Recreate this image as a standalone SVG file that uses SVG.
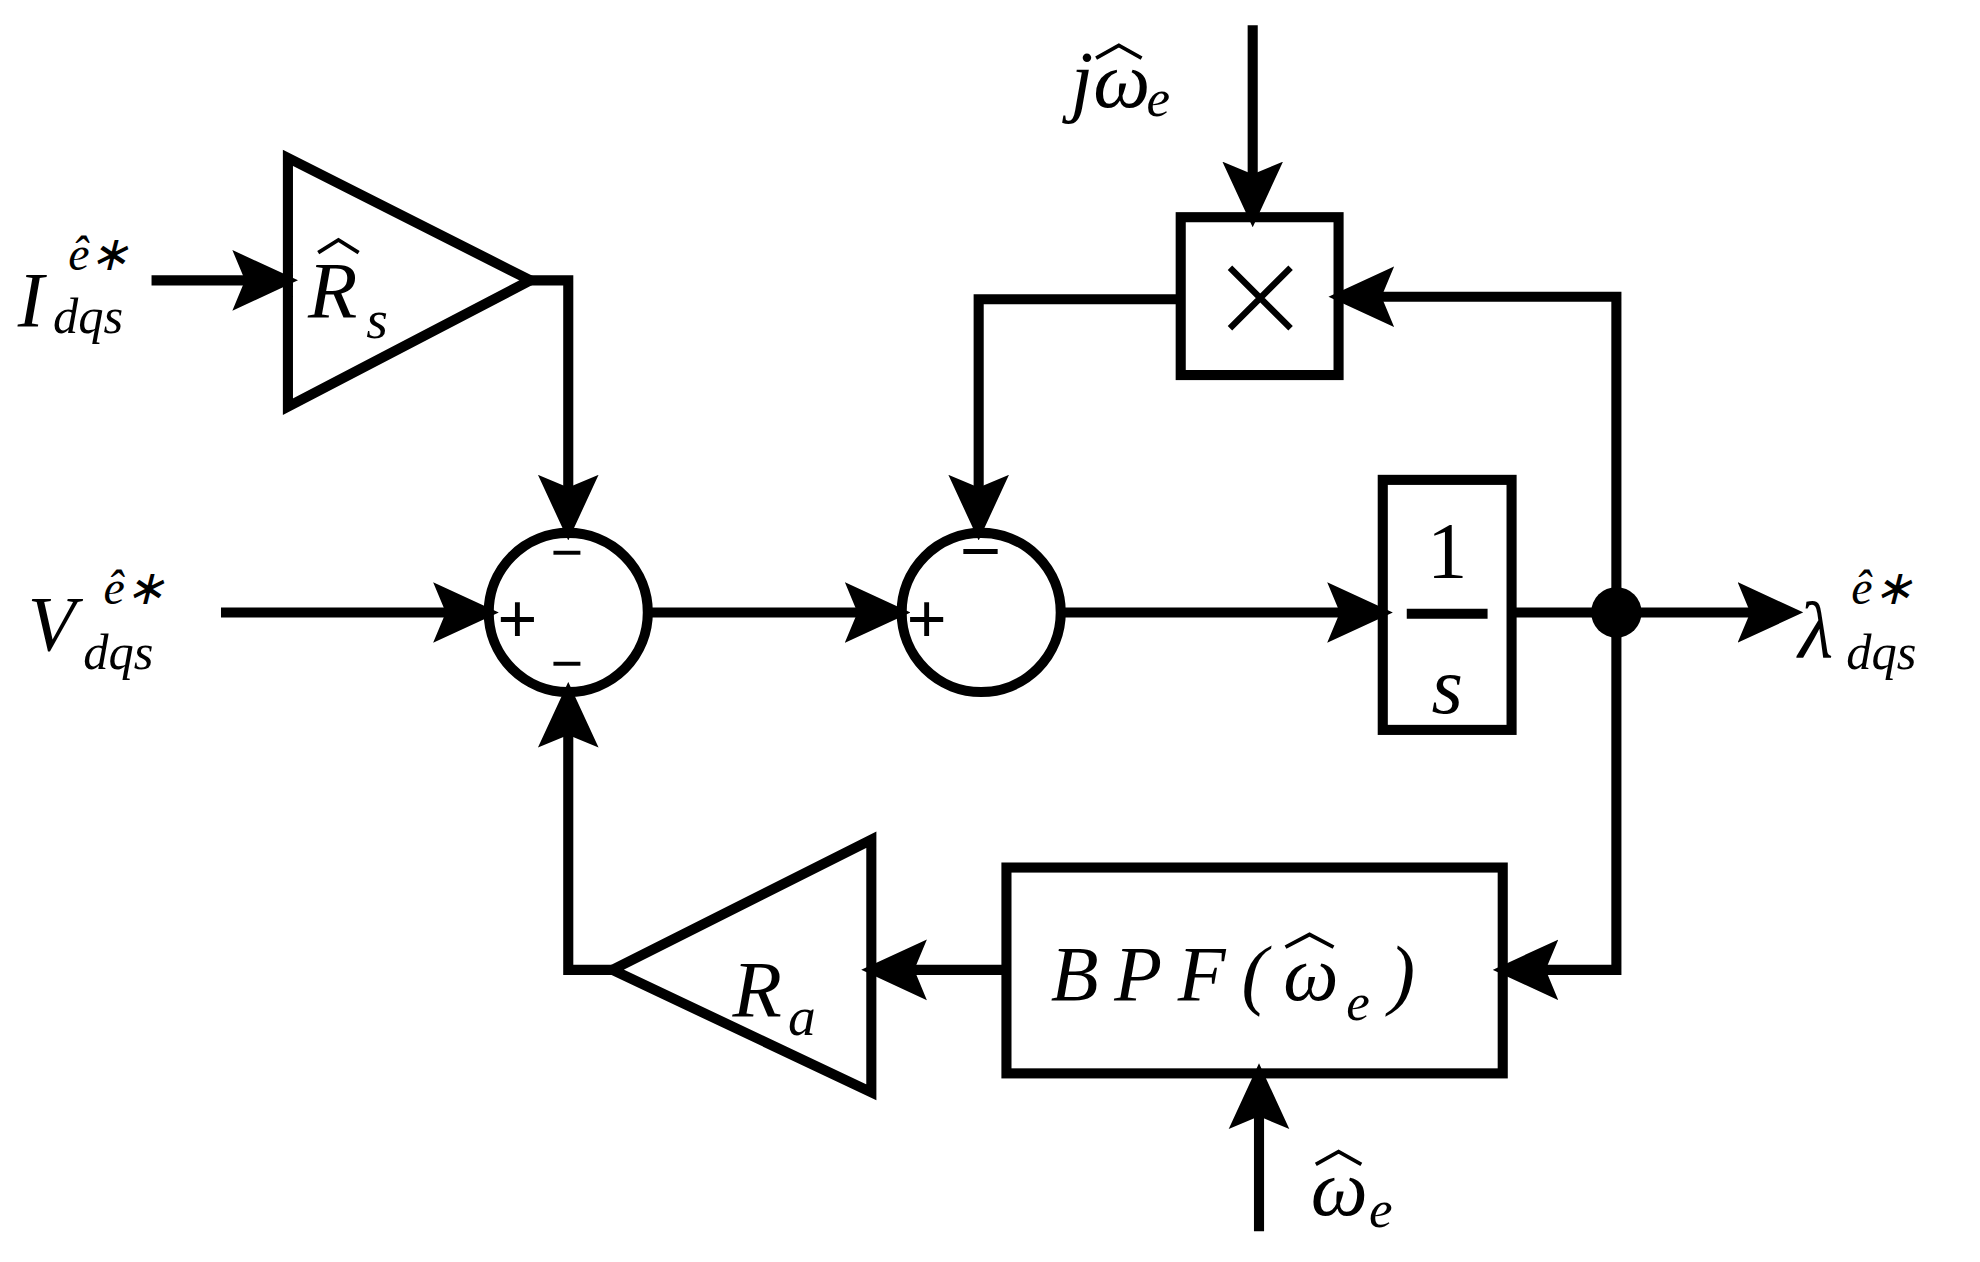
<svg xmlns="http://www.w3.org/2000/svg" width="1980" height="1262" viewBox="0 0 1980 1262">
<style>
.l{fill:none;stroke:#000;stroke-width:8;stroke-linejoin:miter}
.h{fill:none;stroke:#000;stroke-width:3}
.t{font-family:"Liberation Serif",serif;font-style:italic;fill:#000}
.s{font-family:"Liberation Sans",sans-serif;fill:#000}
</style>
<defs>
<marker id="a" markerUnits="userSpaceOnUse" markerWidth="52" markerHeight="52" refX="22" refY="24" orient="auto" viewBox="0 0 52 48"><path d="M0,0 L52,24 L0,48 L10,24 z" fill="#000"/></marker>
</defs>
<rect width="1980" height="1262" fill="#fff"/>
<g transform="scale(1.2628)">
<g id="connectors">
<path class="l" d="M120,222 L206,222" marker-end="url(#a)"/>
<path class="l" d="M420,222 L450,222 L450,398" marker-end="url(#a)"/>
<path class="l" d="M175,485 L365,485" marker-end="url(#a)"/>
<path class="l" d="M513,485 L691,485" marker-end="url(#a)"/>
<path class="l" d="M840,485 L1073,485" marker-end="url(#a)"/>
<path class="l" d="M1197,485 L1398,485" marker-end="url(#a)"/>
<path class="l" d="M1280,485 L1280,235 L1082,235" marker-end="url(#a)"/>
<path class="l" d="M992,20 L992,150" marker-end="url(#a)"/>
<path class="l" d="M935,237 L775,237 L775,398" marker-end="url(#a)"/>
<path class="l" d="M1280,485 L1280,768 L1212,768" marker-end="url(#a)"/>
<path class="l" d="M797,768 L712,768" marker-end="url(#a)"/>
<path class="l" d="M485,768 L450,768 L450,570" marker-end="url(#a)"/>
<path class="l" d="M997,975 L997,872" marker-end="url(#a)"/>
<circle cx="1280" cy="485" r="20" fill="#000"/>
</g>
<g id="Iin"><text class="t" x="14" y="258" font-size="62">I</text><text class="t" x="54" y="214" font-size="38">ê∗</text><text class="t" x="42" y="264" font-size="40">dqs</text></g>
<g id="Vin"><text class="t" x="22" y="515" font-size="62">V</text><text class="t" x="82" y="478" font-size="38">ê∗</text><text class="t" x="66" y="530" font-size="40">dqs</text></g>
<g id="Rs"><path class="l" d="M228,125 L228,322 L420,222 z"/><text class="t" x="244" y="252" font-size="64">R</text><path class="h" d="M252,200 L268,190 L284,200"/><text class="t" x="290" y="268" font-size="44">s</text></g>
<g id="sum1"><circle class="l" cx="450" cy="485" r="63"/><text class="s" x="394" y="508" font-size="54">+</text><text class="s" x="436" y="452" font-size="44">−</text><text class="s" x="436" y="540" font-size="44">−</text></g>
<g id="sum2"><circle class="l" cx="777" cy="485" r="63"/><text class="s" x="718" y="508" font-size="54">+</text><text class="s" x="760" y="455" font-size="56">−</text></g>
<g id="integ"><rect class="l" x="1095" y="380" width="102" height="198"/><text class="t" x="1146" y="458" font-size="64" text-anchor="middle" style="font-style:normal">1</text><path class="l" d="M1114,486 L1178,486"/><text class="t" x="1146" y="565" font-size="64" text-anchor="middle">s</text></g>
<g id="mult"><rect class="l" x="935" y="172" width="125" height="125"/><path class="l" d="M974,212 L1022,260 M1022,212 L974,260" style="stroke-width:5"/></g>
<g id="jw"><text class="t" x="848" y="85" font-size="64">jω</text><path class="h" d="M868,46 L886,36 L904,46"/><text class="t" x="908" y="92" font-size="42">e</text></g>
<g id="out"><text class="t" x="1424" y="520" font-size="64">λ</text><text class="t" x="1466" y="478" font-size="38">ê∗</text><text class="t" x="1462" y="530" font-size="40">dqs</text></g>
<g id="bpf"><rect class="l" x="797" y="687" width="393" height="163"/><text class="t" x="832" y="792" font-size="62" textLength="228" lengthAdjust="spacing">BPF(ω</text><path class="h" d="M1018,750 L1037,740 L1056,750"/><text class="t" x="1066" y="808" font-size="42">e</text><text class="t" x="1100" y="792" font-size="62">)</text></g>
<g id="Ra"><path class="l" d="M690,665 L690,865 L485,768 z"/><text class="t" x="580" y="805" font-size="64">R</text><text class="t" x="624" y="820" font-size="44">a</text></g>
<g id="win"><text class="t" x="1038" y="962" font-size="64">ω</text><path class="h" d="M1042,922 L1060,912 L1078,922"/><text class="t" x="1084" y="972" font-size="42">e</text></g>
</g>
</svg>
